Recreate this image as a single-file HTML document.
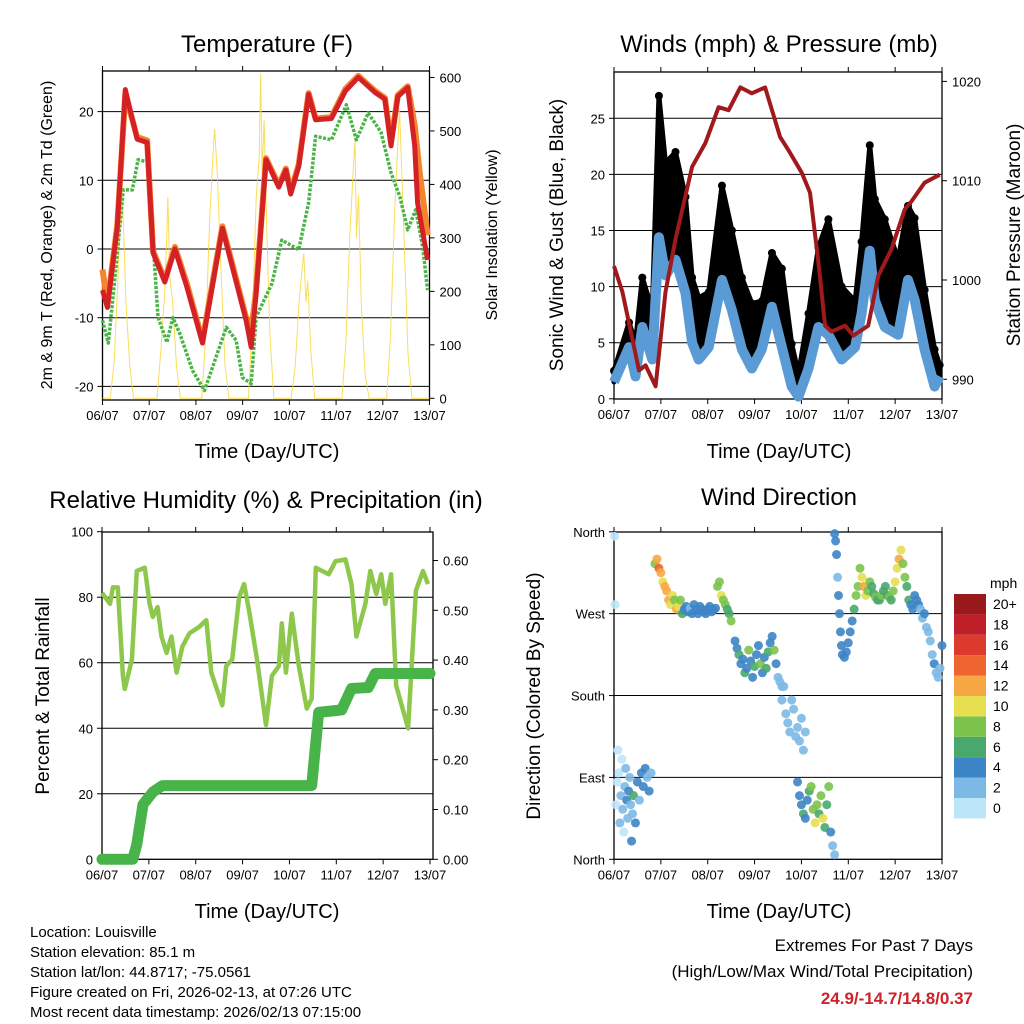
<!DOCTYPE html>
<html><head><meta charset="utf-8"><title>Weather Station Summary</title>
<style>
html,body{margin:0;padding:0;background:#fff;}
svg{display:block;font-family:"Liberation Sans",Arial,sans-serif;}
</style></head>
<body>
<svg id="chart" width="1024" height="1024" viewBox="0 0 1024 1024" xmlns="http://www.w3.org/2000/svg">
<rect x="0" y="0" width="1024" height="1024" fill="#fff"/>
<text x="267" y="52" font-size="24" text-anchor="middle">Temperature (F)</text>
<text x="779" y="52" font-size="24" text-anchor="middle">Winds (mph) &amp; Pressure (mb)</text>
<text x="266" y="508" font-size="24" text-anchor="middle">Relative Humidity (%) &amp; Precipitation (in)</text>
<text x="779" y="505" font-size="24" text-anchor="middle">Wind Direction</text>

<text x="267" y="458" font-size="20" text-anchor="middle">Time (Day/UTC)</text>
<text x="779" y="458" font-size="20" text-anchor="middle">Time (Day/UTC)</text>
<text x="267" y="918" font-size="20" text-anchor="middle">Time (Day/UTC)</text>
<text x="779" y="918" font-size="20" text-anchor="middle">Time (Day/UTC)</text>

<text transform="translate(52,235) rotate(-90)" font-size="16" text-anchor="middle">2m &amp; 9m T (Red, Orange) &amp; 2m Td (Green)</text>
<text transform="translate(497,235) rotate(-90)" font-size="16" text-anchor="middle">Solar Insolation (Yellow)</text>
<text transform="translate(563,235) rotate(-90)" font-size="19" text-anchor="middle">Sonic Wind &amp; Gust (Blue, Black)</text>
<text transform="translate(1020,235) rotate(-90)" font-size="19" text-anchor="middle">Station Pressure (Maroon)</text>
<text transform="translate(49,696) rotate(-90)" font-size="19" text-anchor="middle">Percent &amp; Total Rainfall</text>
<text transform="translate(540,696) rotate(-90)" font-size="19" text-anchor="middle">Direction (Colored By Speed)</text>

<g font-size="15">
<text x="30" y="937">Location: Louisville</text>
<text x="30" y="957">Station elevation: 85.1 m</text>
<text x="30" y="977">Station lat/lon: 44.8717; -75.0561</text>
<text x="30" y="997">Figure created on Fri, 2026-02-13, at 07:26 UTC</text>
<text x="30" y="1017">Most recent data timestamp: 2026/02/13 07:15:00</text>
</g>
<g text-anchor="end">
<text x="973" y="951" font-size="17">Extremes For Past 7 Days</text>
<text x="973" y="977" font-size="17">(High/Low/Max Wind/Total Precipitation)</text>
<text x="973" y="1004" font-size="17" font-weight="bold" fill="#cc2229">24.9/-14.7/14.8/0.37</text>
</g>
<text x="990" y="588" font-size="14">mph</text>
</svg>
<script>
// ---------- DATA ----------
const dayLabels = ["06/07","07/07","08/07","09/07","10/07","11/07","12/07","13/07"];
const tempTicks = [20,10,0,-10,-20];
const solarTicks = [0,100,200,300,400,500,600];
const windTicks = [0,5,10,15,20,25];
const pressTicks = [990,1000,1010,1020];
const rhTicks = [0,20,40,60,80,100];
const precipTicks = ["0.00","0.10","0.20","0.30","0.40","0.50","0.60"];
const dirTickLabels = ["North","East","South","West","North"];
const dirTickValues = [0,90,180,270,360];
const speedBinLabels = ["0","2","4","6","8","10","12","14","16","18","20+"];

const redT = [0,2.5,7.6,11.7,17.8,22.9,26,32,37.2,43.3,51.4,61.6,66.7,73.8,76.4,78.9,84,90.6,94.2,96.7,100.8,105.9,109.5,117.6,124.8,131.4,140,145.1,148.2,151.7,156.8,160.4,161.9,167];
const redV = [-6,-8.5,3.2,23.2,16,15.5,-0.6,-4.8,0,-5.5,-13.7,3,-2.6,-10.4,-14.3,-6.5,13,9,11.5,8,12,22.5,18.8,19,23,25,22.8,21.8,15,22.2,23.5,15,6.7,-1.6];
const orangeT = [0,2.5,7.6,11.7,17.8,22.9,26,32,37.2,43.3,51.4,61.6,66.7,73.8,76.4,78.9,84,90.6,94.2,96.7,100.8,105.9,109.5,117.6,124.8,131.4,140,145.1,148.2,151.7,156.8,160.4,163,167];
const orangeV = [-3,-8,3.5,22.5,16.3,15.8,-0.3,-4.5,0.3,-5,-13.3,3.3,-2.2,-10,-12,-6,13.2,9.3,11.7,8.3,12.3,22.7,19,19.2,23.3,25.2,23,22,15.5,22.4,23.7,18,11,2];
const dewT = [0,3,5.6,10.7,15.3,18.3,22.9,26,28.5,33.1,36.1,39.7,46.3,52.4,63.6,68.7,71.8,76.4,78.9,87.1,92.1,100.8,105.9,109.5,117.6,125.3,130.4,136.5,143.1,148.2,152.8,156.8,160.9,164.5,167];
const dewV = [-10.4,-13.7,-6.4,8.6,8.6,13,12.7,0.9,-9.9,-13.6,-10,-12.3,-17.7,-20.6,-11.4,-13.3,-18.7,-19.6,-9.9,-5,1.3,-0.1,6.7,16.4,15.9,21,15.9,19.8,17,11.1,7.6,2.8,5.7,0.3,-6];
const solarT = [0,4,6,8,9,9.9,11,12,14,16,28,30,32,33,33.6,34.5,36,38,40,51,53,55,57,57.6,59,61,63,65,75,77,79,80.5,81.3,82,83,84.5,86,88,97,99,101,102.5,103.4,104.5,105.5,107,109,123,125,127,129,129.7,130.5,131.5,133,135,137,146,148,150,152,152.6,153.5,155,157,159,168];
const solarV = [0,0,70,230,340,395,300,180,60,0,0,90,200,300,376,230,180,60,0,0,120,330,470,504,420,230,60,0,0,150,380,450,607,420,520,300,120,0,0,60,180,240,271,180,220,90,0,0,100,300,440,482,300,380,170,40,0,0,120,340,500,542,450,290,80,0,0];

const windT = [0,7.7,11,14.5,19.6,23,26.4,31.5,36.6,40,43.4,48.5,55.3,60.4,65.5,70.6,75.7,80.9,86,91,94.5,99.6,104.7,109.8,116.6,123.5,126.8,131,133.6,138.7,145.5,150.6,154,159.1,164.2,166.8];
const windV = [1.5,4.6,2,6.4,3.5,14.4,11,12.4,9.4,5,3.5,4.6,10.6,7.9,4.4,2.7,4.4,8.2,4.6,1.1,0.2,2.7,6.4,5.7,3.5,4.6,7.6,13.2,8.8,6.4,5.7,10.6,8.8,4.4,1.1,2];
const gustV = [2.5,6.8,5,10.8,7.9,27,21,22,18,10.8,9,9.5,19,15,10.8,8.5,8.7,13,11.6,4.9,2.2,7.6,13.5,16,10,8.7,14,22.6,17.8,16,12.4,17.2,16.1,9.7,4.4,3];
const pressT = [0,4.3,12.8,16.2,21.3,26.4,31.5,40,46.8,53.6,58.7,64.7,70.6,77.4,85.1,89.3,96.2,100.4,104.7,108.1,111.5,118.3,122.6,130.2,135.3,142.1,148.9,152.3,159.1,166.8];
const pressV = [1001.4,998.8,990.9,991.4,989.3,998.8,1004.1,1011.4,1013.8,1017.4,1017.1,1019.4,1018.8,1019.4,1014.4,1013.1,1010.8,1008.8,1001.8,995.4,994.8,995.4,994.4,995.4,1000.4,1003.1,1007.1,1007.9,1009.8,1010.6];

const rhT = [0,4.1,5.6,8.1,10.7,11.7,15.3,17.8,21.9,24.4,26,28.5,30.5,33.1,35.6,38.2,41.2,44.8,49.9,53.4,56,61.6,63.6,66.7,70.2,72.8,75.3,79.4,84,87,90.6,92.1,94.2,97.2,100.8,104.9,107.4,109.5,116.1,119.6,124.7,127.8,130.3,134.9,137.4,140.5,143,145.1,148.1,150.7,156.8,160.8,164.4,167];
const rhV = [81.3,78,83,83,56,52,61,88,89,78,74,77,68,63,68,57,65,69,71,73,57,47,59,61,80,84,76,61,41,56,59,72,57,75,59,46,49,89,87,91,91.5,84,68,78,88,81,87,78,87,53,40,82,88,84];
const precipT = [0,15.8,17.8,21,26,31,107.4,111,122.7,127.8,136.4,140,168];
const precipV = [0,0,0.03,0.11,0.135,0.148,0.148,0.295,0.30,0.343,0.345,0.373,0.373];

// wind direction clusters (time h, direction deg, speed mph)
const dirT1 = [0.3,0.5,1,1.5,2,2.5,3,3.5,4,4.5,5,5.5,6,6.5,7,7.5,8,8.5,9,9.5,10,11,12,13,14,15,16,17,18,19];
const dirV1 = [355,280,60,85,120,95,40,70,110,55,30,80,100,65,45,75,90,60,20,50,70,40,85,65,95,80,100,90,75,95];
const dirS1 = [1,1,1,1,0,1,2,2,1,2,1,3,2,4,2,4,2,3,4,3,6,5,4,2,4,4,4,3,4,2];
const dirT2 = [21,22,23,24,25,26,27,28,29,30,31,32,33,34,35,36,37,38,39,40,41,42,43,44,45,46,47,48,49,50,51,52,53,54,55,56,57,58,59,60];
const dirV2 = [325,330,320,315,305,300,295,285,280,290,285,275,278,285,270,275,278,272,276,270,280,275,270,278,275,272,270,275,278,272,274,276,300,305,290,285,280,275,270,262];
const dirS2 = [8,12,14,13,11,12,12,12,11,10,9,12,10,8,6,4,4,4,3,4,4,4,4,5,4,4,4,4,5,4,4,4,8,9,10,9,8,7,6,8];
const dirT3 = [62,63,64,65,66,67,68,69,70,71,72,73,74,75,76,77,78,79,80,81,82,83,84,85,86];
const dirV3 = [240,232,225,215,220,205,210,230,218,200,212,225,235,215,205,222,210,228,238,245,230,215,200,195,190];
const dirS3 = [4,4,6,4,4,7,4,8,4,4,6,4,4,8,4,4,6,7,4,4,8,4,2,2,2];
const dirT4 = [86,87,88,89,90,91,92,93,94,95,96,97,98];
const dirV4 = [175,190,160,150,140,175,165,135,145,130,155,120,140];
const dirS4 = [2,2,2,2,2,2,2,2,2,2,2,2,2];
const dirT5 = [94,95,96,97,98,99,100,101,102,103,104,105,106,107,108,109,110,111,112,113];
const dirV5 = [85,70,60,50,45,65,75,80,55,40,60,50,70,45,35,60,80,30,15,5];
const dirS5 = [4,4,4,6,4,4,6,8,9,10,8,6,9,10,7,6,8,4,2,2];
const dirT6 = [113,113.5,114,114.5,115,115.5,116,116.5,117,118,119,120,121,122,123,124,125];
const dirV6 = [358,350,335,310,290,270,250,235,225,222,228,238,250,262,275,290,300];
const dirS6 = [4,4,4,3,4,4,4,4,4,4,4,4,4,4,6,8,8];
const dirT7 = [126,127,128,129,130,131,132,133,134,135,136,137,138,139,140,141,142,143,144,145,146,147,148,149,150,151,152,153,154,155,156];
const dirV7 = [320,310,300,290,295,305,300,292,288,285,285,290,295,300,290,288,285,295,305,320,330,340,325,310,300,285,280,275,290,285,280];
const dirS7 = [9,10,12,11,9,8,7,6,8,7,6,8,7,6,6,8,7,9,10,11,12,10,9,8,7,6,4,4,4,4,4];
const dirT8 = [157,158,159,160,161,162,163,164,165,166,167,168];
const dirV8 = [275,265,270,255,250,240,225,215,205,200,210,235];
const dirS8 = [2,2,4,2,2,2,2,4,2,2,2,4];
const dirT = [].concat(dirT1,dirT2,dirT3,dirT4,dirT5,dirT6,dirT7,dirT8);
const dirV = [].concat(dirV1,dirV2,dirV3,dirV4,dirV5,dirV6,dirV7,dirV8);
const dirS = [].concat(dirS1,dirS2,dirS3,dirS4,dirS5,dirS6,dirS7,dirS8);

// ---------- DRAWING ----------
const NS = 'http://www.w3.org/2000/svg';
const svg = document.getElementById('chart');
function mk(tag, attrs, parent) {
  const e = document.createElementNS(NS, tag);
  for (const k in attrs) e.setAttribute(k, attrs[k]);
  (parent || svg).appendChild(e);
  return e;
}
const speedColors = ["#bde5f8","#7db9e5","#3d85c6","#49a86b","#7cc34c","#e7df50","#f6a744","#ee652f","#dc3a2c","#bf1f29","#99191c"];
function speedColor(s) { return speedColors[Math.min(10, Math.floor(s / 2))]; }

const P1 = {L:102.5, R:429.5, T:71, B:400};
const P2 = {L:614, R:942, T:72, B:399};
const P3 = {L:102, R:430, T:532, B:859.3, BR:433};
const P4 = {L:614, R:942, T:532, B:859.3};
function xAt(P, h) { return P.L + h / 168 * (P.R - P.L); }
const yTemp = v => 249 - v * 6.87;
const ySolar = v => 398.3 - v * 0.5347;
const yWind = v => 398.8 - v * 11.22;
const yPress = p => 379.3 - (p - 990) * 9.93;
const yRH = v => 859.3 - v * 3.276;
const yPrecip = v => 859.3 - v * 498;
const yDir = d => 859.3 - d * 0.9097;

function pathFrom(P, ts, vs, yf) {
  return ts.map((t, i) => (i ? 'L' : 'M') + xAt(P, t).toFixed(1) + ',' + yf(vs[i]).toFixed(1)).join(' ');
}

function frame(P, name) {
  const g = mk('g', {});
  
  
  const right = P.BR || P.R;
  mk('rect', {x:P.L, y:P.T, width:right - P.L, height:P.B - P.T, fill:'none', stroke:'#000', 'stroke-width':1.3}, g);
  dayLabels.forEach((lab, d) => {
    const x = P.L + d * (P.R - P.L) / 7;
    mk('line', {x1:x, y1:P.T, x2:x, y2:P.T - 5, stroke:'#000', 'stroke-width':1}, g);
    mk('line', {x1:x, y1:P.B, x2:x, y2:P.B + 5, stroke:'#000', 'stroke-width':1}, g);
    const t = mk('text', {x:x, y:P.B + 20, 'font-size':13, 'text-anchor':'middle'}, g);
    
    
    t.textContent = lab;
  });
  return g;
}
function hgrid(P, vals, yf, g) {
  const right = P.BR || P.R;
  vals.forEach(v => {
    const y = yf(v);
    if (y > P.T + 1 && y < P.B - 1) {
      const l = mk('line', {x1:P.L, y1:y, x2:right, y2:y, stroke:'#000', 'stroke-width':1}, g);
      
      
    }
  });
}
function leftTicks(P, labels, vals, yf, g, fs) {
  vals.forEach((v, i) => {
    const y = yf(v);
    mk('line', {x1:P.L, y1:y, x2:P.L - 5, y2:y, stroke:'#000'}, g);
    const t = mk('text', {x:P.L - 9, y:y + 5, 'font-size':fs || 13, 'text-anchor':'end'}, g);
    
    
    t.textContent = labels[i];
  });
}
function rightTicks(P, labels, vals, yf, g) {
  const right = P.BR || P.R;
  vals.forEach((v, i) => {
    const y = yf(v);
    mk('line', {x1:right, y1:y, x2:right + 5, y2:y, stroke:'#000'}, g);
    const t = mk('text', {x:right + 10, y:y + 5, 'font-size':13}, g);
    
    
    t.textContent = labels[i];
  });
}

// Panel 1: Temperature
const g1 = frame(P1, 'temperature');
hgrid(P1, tempTicks, yTemp, g1);
leftTicks(P1, tempTicks.map(String), tempTicks, yTemp, g1);
rightTicks(P1, solarTicks.map(String), solarTicks, ySolar, g1);
const solarLine = mk('path', {d:pathFrom(P1, solarT, solarV, ySolar), fill:'none', stroke:'#f7d531', 'stroke-width':1, opacity:0.8});


const dewLine = mk('path', {d:pathFrom(P1, dewT, dewV, yTemp), fill:'none', stroke:'#4bb447', 'stroke-width':3.5, 'stroke-dasharray':'3,1.5', 'stroke-linejoin':'round'});


const orangeLine = mk('path', {d:pathFrom(P1, orangeT, orangeV, yTemp), fill:'none', stroke:'#f4842d', 'stroke-width':6, 'stroke-linejoin':'round'});


const redLine = mk('path', {d:pathFrom(P1, redT, redV, yTemp), fill:'none', stroke:'#d42126', 'stroke-width':5, 'stroke-linejoin':'round'});



// Panel 2: Winds & Pressure
const g2 = frame(P2, 'winds');
leftTicks(P2, windTicks.map(String), windTicks, yWind, g2);
rightTicks(P2, pressTicks.map(String), pressTicks, yPress, g2);
const gustPts = windT.map((t, i) => xAt(P2, t).toFixed(1) + ',' + yWind(gustV[i]).toFixed(1));
const windBack = windT.map((t, i) => xAt(P2, t).toFixed(1) + ',' + yWind(windV[i]).toFixed(1)).reverse();
const gustArea = mk('polygon', {points:gustPts.concat(windBack).join(' '), fill:'#000', stroke:'#000', 'stroke-width':5, 'stroke-linejoin':'round'});


windT.forEach((t, i) => {
  const c = mk('circle', {cx:xAt(P2, t), cy:yWind(gustV[i]), r:4, fill:'#000'});
  
  
});
hgrid(P2, windTicks, yWind, g2);
const windLine = mk('path', {d:pathFrom(P2, windT, windV, yWind), fill:'none', stroke:'#5b9bd5', 'stroke-width':10, 'stroke-linejoin':'round'});


const pressLine = mk('path', {d:pathFrom(P2, pressT, pressV, yPress), fill:'none', stroke:'#a0191c', 'stroke-width':4, 'stroke-linejoin':'round'});



// Panel 3: RH & Precip
const g3 = frame(P3, 'humidity');
hgrid(P3, rhTicks, yRH, g3);
leftTicks(P3, rhTicks.map(String), rhTicks, yRH, g3);
rightTicks(P3, precipTicks, precipTicks.map(Number), yPrecip, g3);
const rhLine = mk('path', {d:pathFrom(P3, rhT, rhV, yRH), fill:'none', stroke:'#8dc84d', 'stroke-width':4.5, 'stroke-linejoin':'round'});


const precipLine = mk('path', {d:pathFrom(P3, precipT, precipV, yPrecip), fill:'none', stroke:'#48b348', 'stroke-width':11, 'stroke-linejoin':'round', 'stroke-linecap':'round'});



// Panel 4: Wind direction
const g4 = frame(P4, 'wind-direction');
hgrid(P4, dirTickValues, yDir, g4);
leftTicks(P4, dirTickLabels, dirTickValues, yDir, g4, 13);
dirT.forEach((t, i) => {
  const c = mk('circle', {cx:xAt(P4, t), cy:yDir(dirV[i]), r:4.5, fill:speedColor(dirS[i]), opacity:0.9});
  
  
});

// Colorbar
speedBinLabels.forEach((lab, i) => {
  const y = 594 + (10 - i) * 20.4;
  const r = mk('rect', {x:954, y:y, width:32, height:20.4, fill:speedColors[i]});
  
  
  const t = mk('text', {x:993, y:y + 15, 'font-size':14});
  
  
  t.textContent = lab;
});
</script>
</body></html>
